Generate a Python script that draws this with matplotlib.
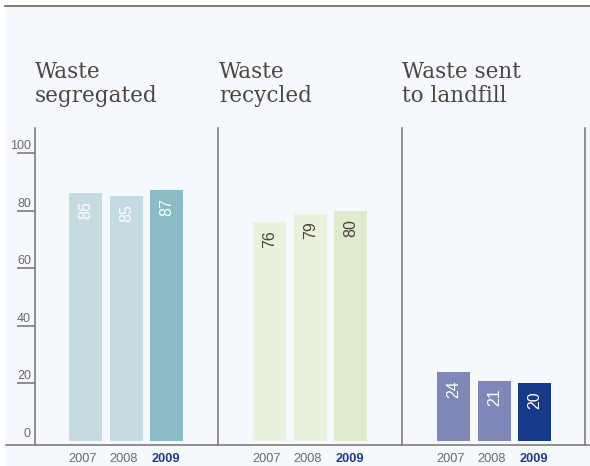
import matplotlib
matplotlib.use("Agg")
from matplotlib import pyplot as plt
from matplotlib.patches import Rectangle

W, H = 590, 466

# data
groups = ["Waste\nsegregated", "Waste\nrecycled", "Waste sent\nto landfill"]
years = ["2007", "2008", "2009"]
segregated = [86, 85, 87]
recycled = [76, 79, 80]
landfill = [24, 21, 20]
values = [segregated, recycled, landfill]
yticks = [0, 20, 40, 60, 80, 100]

bar_colors = [["#c4dce1", "#c4dce1", "#8bbcc6"],
              ["#e8f2dc", "#e8f2dc", "#deebcd"],
              ["#7f87b8", "#7f87b8", "#17398a"]]
label_colors = ["white", "#4a403b", "white"]

LINE = "#7b6f69"
TEXT = "#4f4540"
GREY = "#6e6866"
NAVY = "#1f3b8c"

plt.rcParams["font.family"] = ["Liberation Sans", "DejaVu Sans"]

fig = plt.figure(figsize=(W / 100, H / 100), dpi=100)
fig.patch.set_facecolor("white")

# light blue panel and top rule
fig.add_artist(Rectangle((5 / W, 0), 585 / W, 459 / H, transform=fig.transFigure,
                         facecolor="#f5f9fd", edgecolor="none", zorder=-1))
fig.add_artist(plt.Line2D([5 / W, 1], [1 - 6 / H, 1 - 6 / H], transform=fig.transFigure,
                          color=LINE, lw=1.3))
fig.add_artist(plt.Line2D([6 / W, 1], [21 / H, 21 / H], transform=fig.transFigure,
                          color=LINE, lw=1.1))

ax = fig.add_axes([35 / W, 21 / H, 550 / W, 317 / H])
ax.set_zorder(2)
ax.set_facecolor("none")
ax.set_xlim(-0.497, 2.492)
ax.set_ylim(-1.39, 108.7)

for s in ["top", "right", "bottom"]:
    ax.spines[s].set_visible(False)
ax.spines["left"].set_color(LINE)
ax.spines["left"].set_linewidth(1.1)

ax.set_xticks([])
ax.set_yticks(yticks[1:])
ax.tick_params(axis="y", length=13, width=1.1, color=LINE, labelleft=False)

# group separators
for xs in [0.5, 1.5, 2.492]:
    ax.axvline(xs, color=LINE, lw=1.1, clip_on=False)

off = 0.22
bw = 33 / 184
for g, vals in enumerate(values):
    xs = [g + (i - 1) * off for i in range(3)]
    ax.bar(xs, vals, width=bw, color=bar_colors[g], bottom=0, zorder=2)
    for x, v in zip(xs, vals):
        ax.annotate(str(v), (x, v), xytext=(0, -8 * 0.72), textcoords="offset points",
                    rotation=90, ha="center", va="top", fontsize=11.5,
                    color=label_colors[g], zorder=3)
    for i, (x, yr) in enumerate(zip(xs, years)):
        shift = -3 if i < 2 else -1
        bold = i == 2
        ax.annotate(yr, (x, 0), xycoords=("data", "axes fraction"),
                    xytext=(shift * 0.72, -14 * 0.72), textcoords="offset points",
                    ha="center", va="center", fontsize=9.2,
                    fontweight="bold" if bold else "normal",
                    color=NAVY if bold else GREY, annotation_clip=False)

# y labels sit above the tick lines
for t in yticks:
    ax.annotate(str(t), (0, t), xycoords=("axes fraction", "data"),
                xytext=(-4 * 0.72, 7 * 0.72), textcoords="offset points",
                ha="right", va="center", fontsize=9, color=GREY,
                annotation_clip=False)

# titles
title_x = [35, 219, 402]
for tx, title in zip(title_x, groups):
    l1, l2 = title.split("\n")
    fig.text(tx / W, 1 - 78 / H, l1, family="DejaVu Serif", fontsize=15.5,
             color=TEXT, va="baseline", ha="left")
    fig.text(tx / W, 1 - 102 / H, l2, family="DejaVu Serif", fontsize=15.5,
             color=TEXT, va="baseline", ha="left")

fig.savefig("out.png", dpi=100)
